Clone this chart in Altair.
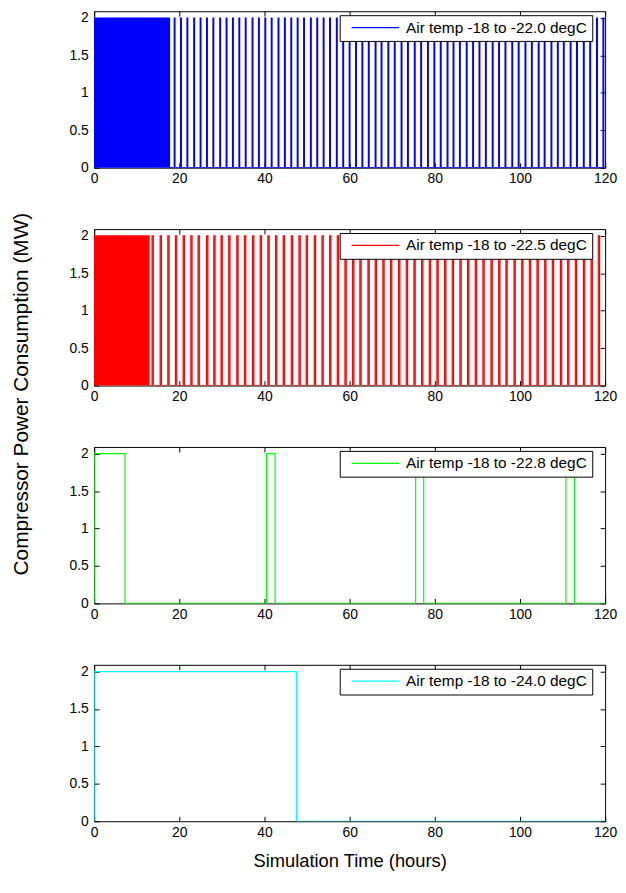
import altair as alt
import pandas as pd

# ---------------- data ----------------
x_ticks = [0, 20, 40, 60, 80, 100, 120]
y_ticks = [0, 0.5, 1, 1.5, 2]
x_max = 120
y_max = 2.09
power_on = 2.0  # MW while the compressor runs

labels = [
    "Air temp -18 to -22.0 degC",
    "Air temp -18 to -22.5 degC",
    "Air temp -18 to -22.8 degC",
    "Air temp -18 to -24.0 degC",
]
colors = ["#0000FF", "#FF0000", "#00FF00", "#00FFFF"]

# (switch on, switch off) in hours
blue_pulses = [
    (0.0, 0.22), (0.4, 0.62), (0.8, 1.02), (1.2, 1.42), (1.6, 1.82), (2.0, 2.22), (2.4, 2.62),
    (2.8, 3.02), (3.2, 3.42), (3.6, 3.82), (4.0, 4.22), (4.4, 4.62), (4.8, 5.02), (5.2, 5.42),
    (5.6, 5.82), (6.0, 6.22), (6.4, 6.62), (6.8, 7.02), (7.2, 7.42), (7.6, 7.82), (8.0, 8.22),
    (8.4, 8.62), (8.8, 9.02), (9.2, 9.42), (9.6, 9.82), (10.0, 10.22), (10.4, 10.62), (10.8, 11.02),
    (11.2, 11.42), (11.6, 11.82), (12.0, 12.22), (12.4, 12.62), (12.8, 13.02), (13.2, 13.42),
    (13.6, 13.82), (14.0, 14.22), (14.4, 14.62), (14.8, 15.02), (15.2, 15.42), (15.6, 15.82),
    (16.0, 16.22), (16.4, 16.62), (16.8, 17.02), (17.2, 17.42), (17.5, 17.7),
    (18.8, 18.98), (20.3, 20.48), (21.8, 21.98), (23.4, 23.58), (24.9, 25.08), (26.4, 26.58),
    (27.9, 28.08), (29.5, 29.68), (31.0, 31.18), (32.5, 32.68), (34.0, 34.18), (35.5, 35.68),
    (37.1, 37.28), (38.6, 38.78), (40.1, 40.28), (41.6, 41.78), (43.2, 43.38), (44.7, 44.88),
    (46.2, 46.38), (47.7, 47.88), (49.2, 49.38), (50.8, 50.98), (52.3, 52.48), (53.8, 53.98),
    (55.3, 55.48), (56.9, 57.08), (58.4, 58.58), (59.9, 60.08), (61.4, 61.58), (62.9, 63.08),
    (64.4, 64.58), (66.0, 66.18), (67.4, 67.58), (69.0, 69.18), (70.5, 70.68), (72.1, 72.28),
    (73.6, 73.78), (75.2, 75.38), (76.7, 76.88), (78.3, 78.48), (79.8, 79.98), (81.3, 81.48),
    (82.9, 83.08), (84.3, 84.48), (85.8, 85.98), (87.4, 87.58), (88.9, 89.08), (90.4, 90.58),
    (91.9, 92.08), (93.5, 93.68), (95.0, 95.18), (96.5, 96.68), (98.1, 98.28), (99.6, 99.78),
    (101.2, 101.38), (102.7, 102.88), (104.3, 104.48), (105.7, 105.88), (107.3, 107.48),
    (108.8, 108.98), (110.2, 110.38), (111.8, 111.98), (113.3, 113.48), (114.9, 115.08),
    (116.4, 116.58), (118.0, 118.18), (119.5, 119.68),
]

red_pulses = [
    (0.0, 0.25), (0.4, 0.65), (0.8, 1.05), (1.2, 1.45), (1.6, 1.85), (2.0, 2.25), (2.4, 2.65),
    (2.8, 3.05), (3.2, 3.45), (3.6, 3.85), (4.0, 4.25), (4.4, 4.65), (4.8, 5.05), (5.2, 5.45),
    (5.6, 5.85), (6.0, 6.25), (6.4, 6.65), (6.8, 7.05), (7.2, 7.45), (7.6, 7.85), (8.0, 8.25),
    (8.4, 8.65), (8.8, 9.05), (9.2, 9.45), (9.6, 9.85), (10.0, 10.25), (10.4, 10.65),
    (10.8, 11.05), (11.2, 11.45), (11.6, 11.85), (12.0, 12.25), (12.4, 12.65), (12.7, 12.9),
    (13.6, 13.9), (15.5, 15.8), (17.3, 17.6), (19.1, 19.4), (20.9, 21.2), (22.7, 23.0),
    (24.4, 24.7), (26.4, 26.7), (28.1, 28.4), (29.8, 30.1), (31.6, 31.9), (33.5, 33.8),
    (35.3, 35.6), (37.2, 37.5), (39.0, 39.3), (40.8, 41.1), (42.6, 42.9), (44.4, 44.7),
    (46.3, 46.6), (48.1, 48.4), (49.8, 50.1), (51.7, 52.0), (53.5, 53.8), (55.3, 55.6),
    (57.1, 57.4), (58.9, 59.2), (60.7, 61.0), (62.4, 62.7), (64.3, 64.6), (66.0, 66.3),
    (67.8, 68.1), (69.6, 69.9), (71.5, 71.8), (73.3, 73.6), (75.1, 75.4), (76.9, 77.2),
    (78.7, 79.0), (80.5, 80.8), (82.3, 82.6), (84.1, 84.4), (85.9, 86.2), (87.7, 88.0),
    (89.5, 89.8), (91.3, 91.6), (93.2, 93.5), (95.0, 95.3), (96.7, 97.0), (98.6, 98.9),
    (100.4, 100.7), (102.2, 102.5), (104.0, 104.3), (105.8, 106.1), (107.6, 107.9),
    (109.5, 109.8), (111.2, 111.5), (113.0, 113.3), (114.9, 115.2), (116.7, 117.0),
    (118.4, 118.7),
]

green_pulses = [(0.0, 7.25), (40.5, 42.5), (75.5, 77.4), (110.8, 112.8)]
cyan_pulses = [(0.0, 47.5)]

all_pulses = [blue_pulses, red_pulses, green_pulses, cyan_pulses]

# ---------------- layout / style ----------------
W, H = 516, 158
FONT = "Liberation Sans"


def step_table(pulses, label):
    rows = []
    for on, off in pulses:
        for t, p in ((on, 0.0), (on, power_on), (off, power_on), (off, 0.0)):
            rows.append({"t": t, "p": p})
    rows.append({"t": x_max, "p": 0.0})
    df = pd.DataFrame(rows)
    df["i"] = range(len(df))
    df["s"] = label
    return df


def panel(k, last):
    df = step_table(all_pulses[k], labels[k])
    xs = alt.Scale(domain=[0, x_max], nice=False, zero=False)
    ys = alt.Scale(domain=[0, y_max], nice=False, zero=True)
    tick_grid = dict(grid=True, gridDash=[5, 2000], gridColor="black", gridOpacity=1,
                     gridWidth=1, ticks=False, domain=False)
    x_axis = alt.Axis(values=x_ticks, labelFontSize=14, labelFont=FONT, labelColor="black",
                      labelPadding=4, labelFlush=False,
                      title="Simulation Time (hours)" if last else None,
                      titleFontSize=18.5, titleFont=FONT, titleFontWeight="normal",
                      titleColor="black", titlePadding=13, **tick_grid)
    y_axis = alt.Axis(values=y_ticks, format="~g", labelFontSize=14, labelFont=FONT,
                      labelColor="black", labelPadding=6, labelFlush=False, title=None,
                      **tick_grid)
    legend = alt.Legend(title=None, orient="none", legendX=248, legendY=4,
                        symbolType="stroke", symbolSize=2304, symbolStrokeWidth=1.2,
                        symbolStrokeColor=colors[k],
                        clipHeight=15, labelFontSize=15.5, labelFont=FONT,
                        labelColor="black", padding=5, symbolOffset=6, labelOffset=6,
                        fillColor="white", strokeColor="black", cornerRadius=0,
                        labelLimit=400)
    line = alt.Chart(df).mark_line(strokeWidth=1.2, clip=True).encode(
        x=alt.X("t:Q", scale=xs, axis=x_axis),
        y=alt.Y("p:Q", scale=ys, axis=y_axis),
        order=alt.Order("i:Q"),
        color=alt.Color("s:N", scale=alt.Scale(domain=[labels[k]], range=[colors[k]]),
                        legend=legend),
    )
    mirror = alt.Chart(df).mark_line(opacity=0).encode(
        x=alt.X("t:Q", scale=xs,
                axis=alt.Axis(orient="top", values=x_ticks, labels=False, title=None,
                              minExtent=0, maxExtent=0, offset=0, **tick_grid)),
        y=alt.Y("p:Q", scale=ys,
                axis=alt.Axis(orient="right", values=y_ticks, labels=False, title=None,
                              minExtent=0, maxExtent=0, offset=0, **tick_grid)),
        order=alt.Order("i:Q"),
    )
    return (alt.layer(mirror, line)
            .resolve_axis(x="independent", y="independent")
            .properties(width=W, height=H))


panels = [panel(k, k == 3) for k in range(4)]

chart = (
    alt.vconcat(*panels, spacing=62, bounds="flush",
                title=alt.Title("Compressor Power Consumption (MW)", orient="left",
                                anchor="middle", fontSize=21, font=FONT,
                                fontWeight="normal", color="black", offset=37, dx=47))
    .resolve_scale(color="independent")
    .resolve_legend(color="independent")
    .properties(padding={"top": -2, "left": 3, "right": 0, "bottom": 0}, background="white")
    .configure_view(stroke="black", strokeWidth=1)
)

chart.save("out.html", embed_options={"renderer": "svg", "actions": False})
